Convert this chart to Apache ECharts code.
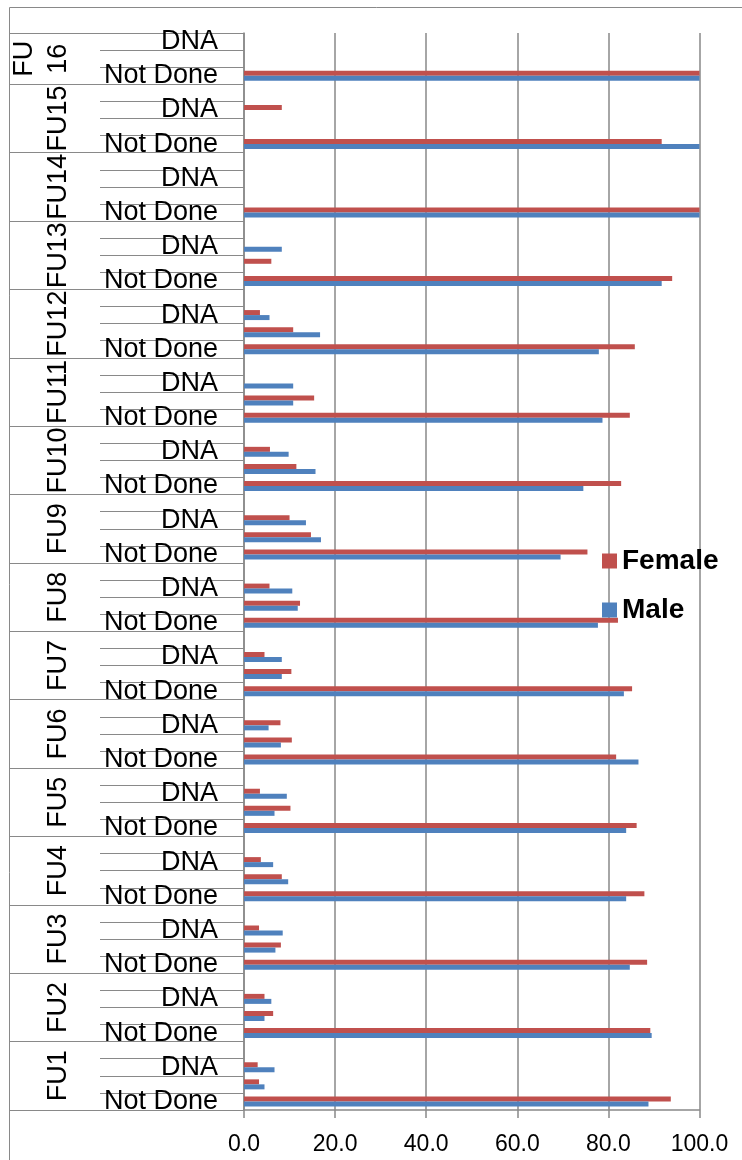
<!DOCTYPE html>
<html>
<head>
<meta charset="utf-8">
<script src="https://cdn.jsdelivr.net/npm/echarts@6/dist/echarts.min.js"></script>
<style>
  html, body { margin: 0; padding: 0; background: #ffffff; }
  #chart { width: 742px; height: 1160px; }
</style>
</head>
<body>
<div id="chart"></div>
<script>
// Follow-up visits, listed bottom to top
const groups = ['FU1', 'FU2', 'FU3', 'FU4', 'FU5', 'FU6', 'FU7', 'FU8',
                'FU9', 'FU10', 'FU11', 'FU12', 'FU13', 'FU14', 'FU15', 'FU16'];
// Rows inside every visit, bottom to top
const rowLabels = ['Not Done', '', 'DNA', ''];
// Number of rows each visit occupies (the last one has no spare top row)
const rowsPerGroup = [4, 4, 4, 4, 4, 4, 4, 4, 4, 4, 4, 4, 4, 4, 4, 3];

// Percentages, FU1 .. FU16
const femaleNotDone = [93.7, 89.2, 88.5, 87.9, 86.2, 81.7, 85.2, 82.1, 75.4, 82.8, 84.7, 85.8, 94.0, 100, 91.7, 100];
const femaleMid     = [3.3, 6.4, 8.1, 8.3, 10.2, 10.5, 10.4, 12.3, 14.7, 11.5, 15.4, 10.8, 6.0, 0, 0, 0];
const femaleDNA     = [3.0, 4.5, 3.3, 3.7, 3.5, 8.0, 4.5, 5.6, 10.0, 5.7, 0, 3.5, 0, 0, 8.3, 0];
const maleNotDone   = [88.8, 89.5, 84.7, 83.9, 83.9, 86.6, 83.4, 77.7, 69.5, 74.5, 78.7, 77.9, 91.7, 100, 100, 100];
const maleMid       = [4.5, 4.5, 6.9, 9.7, 6.7, 8.1, 8.3, 11.8, 16.9, 15.7, 10.8, 16.7, 0, 0, 0, 0];
const maleDNA       = [6.7, 6.0, 8.5, 6.4, 9.4, 5.4, 8.3, 10.6, 13.6, 9.8, 10.8, 5.6, 8.3, 0, 0, 0];

const seriesNames = ['Female', 'Male'];
const seriesColors = ['#C0504D', '#4F81BD'];

// Flatten the visit/row hierarchy into one category list
const categories = [];
const femaleData = [];
const maleData = [];
const groupStart = [];
groups.forEach(function (g, gi) {
  groupStart.push(categories.length);
  const f = [femaleNotDone[gi], femaleMid[gi], femaleDNA[gi], null];
  const m = [maleNotDone[gi], maleMid[gi], maleDNA[gi], null];
  for (let r = 0; r < rowsPerGroup[gi]; r++) {
    categories.push(g + '|' + r);
    femaleData.push(f[r]);
    maleData.push(m[r]);
  }
});

const FONT = '"Liberation Sans", Arial, sans-serif';
const GRAY = '#898989';

const chart = echarts.init(document.getElementById('chart'), null, { renderer: 'canvas' });

chart.setOption({
  animation: false,
  backgroundColor: '#ffffff',
  grid: { left: 244, right: 42.5, top: 33, bottom: 50, containLabel: false },
  legend: {
    orient: 'vertical',
    left: 597,
    top: 542,
    itemWidth: 15,
    itemHeight: 15,
    itemGap: 21,
    icon: 'rect',
    data: seriesNames,
    textStyle: { fontFamily: FONT, fontSize: 28, fontWeight: 'bold', color: '#000' }
  },
  xAxis: {
    type: 'value',
    min: 0,
    max: 100,
    interval: 20,
    axisLine: { show: true, lineStyle: { color: GRAY, width: 1.5 } },
    axisTick: { show: true, length: 8, lineStyle: { color: GRAY, width: 1.5 } },
    splitLine: { show: true, lineStyle: { color: GRAY, width: 1.5 } },
    axisLabel: {
      margin: 23,
      fontFamily: FONT,
      fontSize: 23,
      color: '#000',
      formatter: function (v) { return v.toFixed(1); }
    }
  },
  yAxis: [
    {
      // inner level: row labels and row separators
      type: 'category',
      data: categories,
      position: 'left',
      axisLine: { show: true, lineStyle: { color: GRAY, width: 1.5 } },
      axisTick: { show: true, interval: 0, length: 144, lineStyle: { color: GRAY, width: 1 } },
      axisLabel: {
        interval: 0,
        margin: 26,
        fontFamily: FONT,
        fontSize: 27,
        color: '#000',
        formatter: function (v) { return rowLabels[+v.split('|')[1]]; }
      },
      splitLine: { show: false }
    },
    {
      // outer level: visit separators
      type: 'category',
      data: categories,
      position: 'left',
      offset: 0,
      axisLine: { show: false },
      axisTick: {
        show: true,
        length: 234,
        interval: function (index) { return groupStart.indexOf(index) !== -1; },
        lineStyle: { color: GRAY, width: 1 }
      },
      axisLabel: { show: false },
      splitLine: { show: false }
    }
  ],
  series: [
    {
      name: seriesNames[0],
      type: 'bar',
      yAxisIndex: 0,
      data: femaleData,
      barWidth: 5,
      barGap: '0%',
      itemStyle: { color: seriesColors[0] }
    },
    {
      name: seriesNames[1],
      type: 'bar',
      yAxisIndex: 0,
      data: maleData,
      barWidth: 5,
      barGap: '0%',
      itemStyle: { color: seriesColors[1] }
    }
  ]
});

// Outer frame and visit titles, rotated and centred on each visit's rows
const graphics = [{
  type: 'rect',
  z: -10,
  silent: true,
  shape: { x: 9.5, y: 7.5, width: 780, height: 1200 },
  style: { fill: 'none', stroke: GRAY, lineWidth: 1 }
}];
const titleLineHeight = 34;
groups.forEach(function (g, gi) {
  const first = groupStart[gi];
  const last = first + rowsPerGroup[gi] - 1;
  const yA = chart.convertToPixel({ yAxisIndex: 0 }, categories[first]);
  const yB = chart.convertToPixel({ yAxisIndex: 0 }, categories[last]);
  const title = rowsPerGroup[gi] < 4 ? g.replace(/^(\D+)(\d+)$/, '$1\n$2') : g;
  const lines = title.split('\n').length;
  graphics.push({
    type: 'text',
    silent: true,
    x: 59 - (lines - 1) * titleLineHeight / 2,
    y: (yA + yB) / 2,
    rotation: Math.PI / 2,
    style: {
      text: title,
      fontFamily: FONT,
      fontSize: 27,
      lineHeight: titleLineHeight,
      fill: '#000',
      align: 'center',
      verticalAlign: 'middle'
    }
  });
});
chart.setOption({ graphic: graphics });
</script>
</body>
</html>
